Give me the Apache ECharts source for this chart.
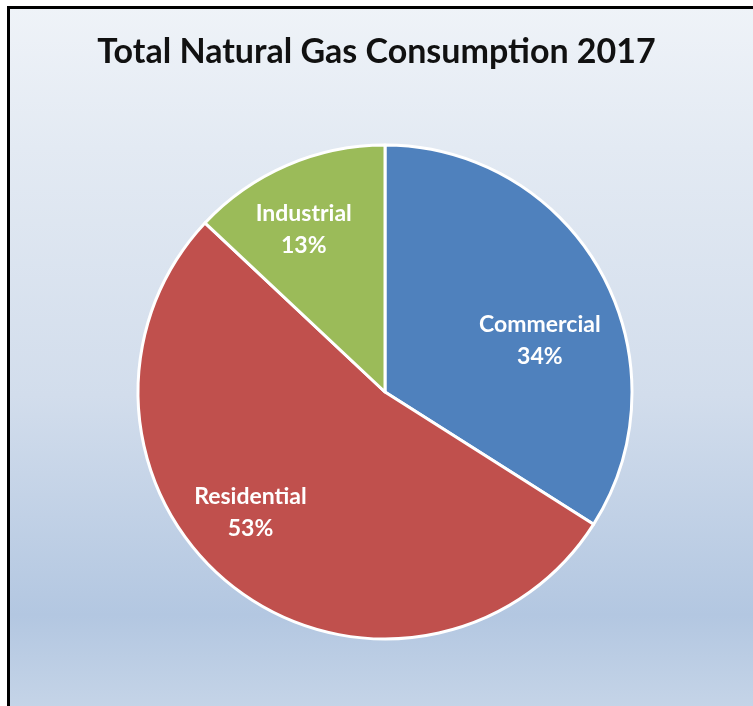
<!DOCTYPE html>
<html>
<head>
<meta charset="utf-8">
<script src="https://cdn.jsdelivr.net/npm/echarts@6/dist/echarts.min.js"></script>
<style>
  html, body { margin: 0; padding: 0; background: #ffffff; }
  #chart { width: 753px; height: 706px; }
</style>
</head>
<body>
<div id="chart"></div>
<script>
// Natural gas consumption shares by sector, 2017
const categories = ['Commercial', 'Residential', 'Industrial'];
const shares = [34, 53, 13];
const chartTitle = 'Total Natural Gas Consumption 2017';

const sliceColors = {
  Commercial: '#4f81bd',
  Residential: '#c0504d',
  Industrial: '#9bbb59'
};
// nudges that move each label from the default inside spot
const labelNudge = {
  Commercial: [44, 10],
  Residential: [-57, 21],
  Industrial: [-31, -46]
};

const chart = echarts.init(document.getElementById('chart'), null, { renderer: 'canvas' });

const pieData = categories.map((name, i) => ({
  name,
  value: shares[i],
  itemStyle: { color: sliceColors[name] },
  label: { offset: labelNudge[name] }
}));

chart.setOption({
  backgroundColor: '#ffffff',
  animation: false,
  graphic: [
    {
      type: 'rect',
      z: -10,
      silent: true,
      shape: { x: 8.5, y: 7.5, width: 900, height: 900 },
      style: {
        fill: new echarts.graphic.LinearGradient(0, 0, 0, 706 / 900, [
          { offset: 0, color: '#eff3f8' },
          { offset: 0.2, color: '#e3eaf3' },
          { offset: 0.55, color: '#d2ddec' },
          { offset: 0.86, color: '#b3c7e1' },
          { offset: 1, color: '#c6d5e8' }
        ]),
        stroke: '#000000',
        lineWidth: 3
      }
    }
  ],
  title: {
    text: chartTitle,
    left: 'center',
    top: 30,
    textStyle: {
      fontFamily: 'Lato',
      fontWeight: 'bold',
      fontSize: 34,
      color: '#111111'
    }
  },
  series: [
    {
      type: 'pie',
      center: [385, 392],
      radius: [0, 247],
      startAngle: 90,
      clockwise: true,
      data: pieData,
      itemStyle: { borderColor: '#ffffff', borderWidth: 3 },
      emphasis: { disabled: true },
      label: {
        show: true,
        position: 'inside',
        formatter: '{b}\n{d}%',
        color: '#ffffff',
        fontFamily: 'Lato',
        fontWeight: 'bold',
        fontSize: 23,
        lineHeight: 32,
        align: 'center'
      },
      labelLine: { show: false }
    }
  ]
});
</script>
</body>
</html>
